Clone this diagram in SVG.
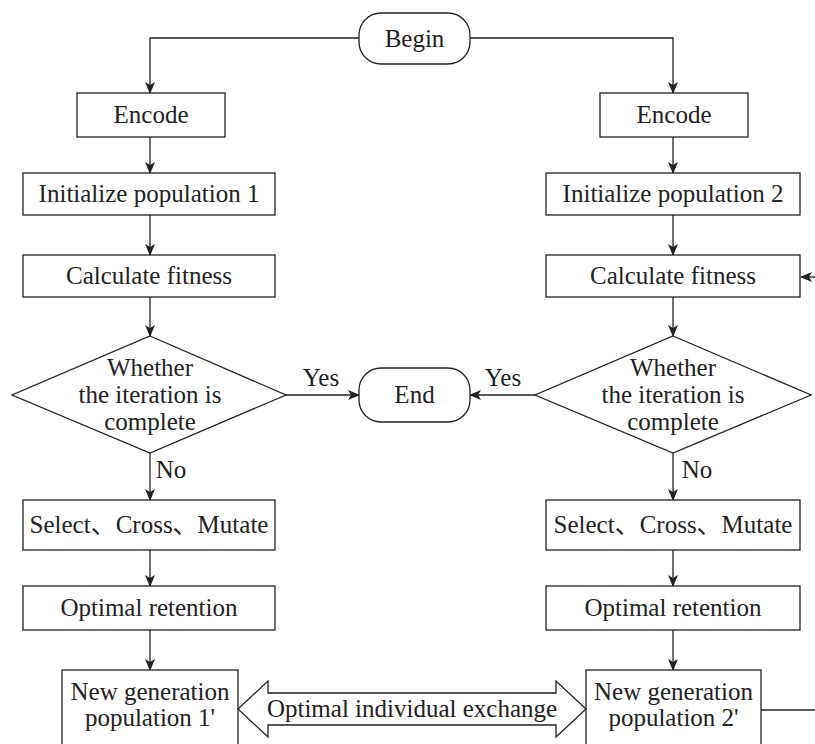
<svg xmlns="http://www.w3.org/2000/svg" width="815" height="744" viewBox="0 0 815 744">
<style>
.box{fill:#fff;stroke:#222;stroke-width:1.3}
.t{font-family:"Liberation Serif","Noto Sans CJK SC",serif;font-size:25px;fill:#222;text-anchor:middle}
.c{fill:none;stroke:#222;stroke-width:1.3}
</style>
<defs>
<marker id="ah" markerWidth="12" markerHeight="10" refX="11" refY="5" orient="auto" markerUnits="userSpaceOnUse">
<path d="M0,0 L12,5 L0,10 L3,5 z" fill="#222"/>
</marker>
</defs>
<rect width="815" height="744" fill="#fff"/>
<g id="connectors">
<path class="c" d="M359,38 H150 V93" marker-end="url(#ah)"/>
<path class="c" d="M470,38 H673 V93" marker-end="url(#ah)"/>
<path class="c" d="M150,137 V173" marker-end="url(#ah)"/>
<path class="c" d="M150,215 V255" marker-end="url(#ah)"/>
<path class="c" d="M150,297 V336" marker-end="url(#ah)"/>
<path class="c" d="M150,453 V500" marker-end="url(#ah)"/>
<path class="c" d="M150,550 V586" marker-end="url(#ah)"/>
<path class="c" d="M150,630 V670" marker-end="url(#ah)"/>
<path class="c" d="M673,137 V173" marker-end="url(#ah)"/>
<path class="c" d="M673,215 V255" marker-end="url(#ah)"/>
<path class="c" d="M673,297 V336" marker-end="url(#ah)"/>
<path class="c" d="M673,453 V500" marker-end="url(#ah)"/>
<path class="c" d="M673,550 V586" marker-end="url(#ah)"/>
<path class="c" d="M673,630 V670" marker-end="url(#ah)"/>
<path class="c" d="M286,395 H359" marker-end="url(#ah)"/>
<path class="c" d="M535,395 H470" marker-end="url(#ah)"/>
<path class="c" d="M761,710 H815"/>
<path class="c" d="M816,277 H801" marker-end="url(#ah)"/>
<text class="t" x="321" y="386">Yes</text>
<text class="t" x="503" y="386">Yes</text>
<text class="t" x="171" y="478">No</text>
<text class="t" x="697" y="478">No</text>
</g>
<g id="begin"><rect class="box" x="359" y="13" width="111" height="51" rx="22"/><text class="t" x="414.5" y="47">Begin</text></g>
<g id="encode1"><rect class="box" x="77" y="93" width="148" height="44"/><text class="t" x="151" y="123">Encode</text></g>
<g id="encode2"><rect class="box" x="600" y="93" width="148" height="44"/><text class="t" x="674" y="123">Encode</text></g>
<g id="init1"><rect class="box" x="23" y="173" width="252" height="42"/><text class="t" x="149" y="202">Initialize population 1</text></g>
<g id="init2"><rect class="box" x="546" y="173" width="254" height="42"/><text class="t" x="673" y="202">Initialize population 2</text></g>
<g id="fit1"><rect class="box" x="23" y="255" width="252" height="42"/><text class="t" x="149" y="284">Calculate fitness</text></g>
<g id="fit2"><rect class="box" x="546" y="255" width="254" height="42"/><text class="t" x="673" y="284">Calculate fitness</text></g>
<g id="dec1"><polygon class="box" points="150,336 286,395 150,453 12,395"/>
<text class="t" x="150" y="376">Whether</text><text class="t" x="150" y="403">the iteration is</text><text class="t" x="150" y="430">complete</text></g>
<g id="dec2"><polygon class="box" points="673,336 811,395 673,453 535,395"/>
<text class="t" x="673" y="376">Whether</text><text class="t" x="673" y="403">the iteration is</text><text class="t" x="673" y="430">complete</text></g>
<g id="end"><rect class="box" x="359" y="368" width="111" height="54" rx="22"/><text class="t" x="414.5" y="403">End</text></g>
<g id="sel1"><rect class="box" x="23" y="500" width="252" height="50"/><text class="t" x="149" y="533">Select、Cross、Mutate</text></g>
<g id="sel2"><rect class="box" x="546" y="500" width="254" height="50"/><text class="t" x="673" y="533">Select、Cross、Mutate</text></g>
<g id="opt1"><rect class="box" x="23" y="586" width="252" height="44"/><text class="t" x="149" y="616">Optimal retention</text></g>
<g id="opt2"><rect class="box" x="546" y="586" width="254" height="44"/><text class="t" x="673" y="616">Optimal retention</text></g>
<g id="new1"><rect class="box" x="62" y="670" width="176" height="90"/><text class="t" x="150" y="700">New generation</text><text class="t" x="150" y="726">population 1'</text></g>
<g id="new2"><rect class="box" x="586" y="670" width="175" height="90"/><text class="t" x="673.5" y="700">New generation</text><text class="t" x="673.5" y="726">population 2'</text></g>
<g id="exchange"><polygon class="box" points="238,709 268,681 268,693 556,693 556,681 586,709 556,737 556,725 268,725 268,737"/><text class="t" x="412" y="717">Optimal individual exchange</text></g>
</svg>
